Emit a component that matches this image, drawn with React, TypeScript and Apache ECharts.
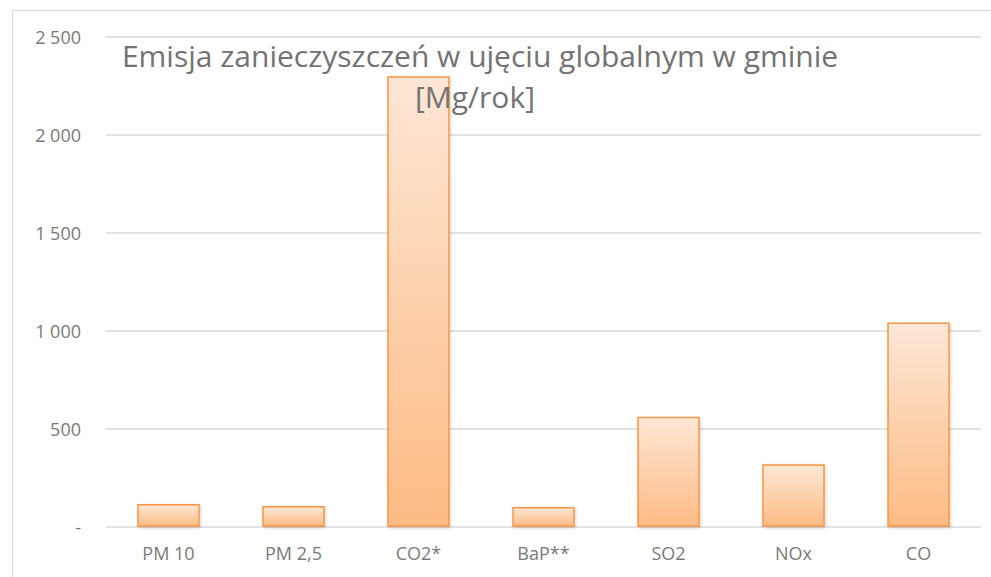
import React, { useEffect, useRef } from "react";
import * as echarts from "echarts";

const categories = ["PM 10", "PM 2,5", "CO2*", "BaP**", "SO2", "NOx", "CO"];
const emissions = [117, 107, 2300, 102, 563, 320, 1044];
const titleLines = ["Emisja zanieczyszczeń w ujęciu globalnym w gminie", "[Mg/rok]"];
const yMax = 2500;
const yStep = 500;

function fmt(v: number): string {
  if (v === 0) return "-";
  return String(v).replace(/\B(?=(\d{3})+(?!\d))/g, " ");
}

export default function App() {
  const ref = useRef<HTMLDivElement>(null);
  useEffect(() => {
    if (!ref.current) return;
    const chart = echarts.init(ref.current, undefined, { renderer: "svg" });
    const font = "'Open Sans', sans-serif";
    chart.setOption({
      animation: false,
      backgroundColor: "#ffffff",
      grid: { left: 106, right: 10, top: 37, bottom: 50, containLabel: false },
      xAxis: {
        type: "category",
        data: categories,
        axisLine: { show: false },
        axisTick: { show: false },
        axisLabel: { color: "#7a7a7a", fontSize: 18, fontFamily: font, margin: 17 },
      },
      yAxis: {
        type: "value",
        min: 0,
        max: yMax,
        interval: yStep,
        axisLine: { show: false },
        axisTick: { show: false },
        splitLine: { lineStyle: { color: "#d9d9d9", width: 1.5 } },
        axisLabel: {
          color: "#7a7a7a",
          fontSize: 18,
          fontFamily: font,
          margin: 25,
          formatter: (v: number) => fmt(v),
        },
      },
      series: [
        {
          type: "bar",
          data: emissions,
          barWidth: "50%",
          z: 2,
          itemStyle: {
            color: new echarts.graphic.LinearGradient(0, 0, 0, 1, [
              { offset: 0, color: "#fde7d6" },
              { offset: 1, color: "#fdbb84" },
            ]),
            borderColor: "#f79646",
            borderWidth: 1.5,
            shadowColor: "rgba(0,0,0,0.18)",
            shadowBlur: 3,
            shadowOffsetX: 1,
            shadowOffsetY: 1,
          },
        },
      ],
      graphic: [
        {
          type: "rect",
          shape: { x: 12.5, y: 10.5, width: 1000, height: 700 },
          style: { fill: "none", stroke: "#d9d9d9", lineWidth: 1 },
          z: 0,
          silent: true,
        },
        {
          type: "text",
          x: 480,
          y: 55,
          z: 10,
          style: {
            text: titleLines[0],
            fill: "#737373",
            fontSize: 30,
            fontFamily: font,
            align: "center",
            verticalAlign: "middle",
          },
        },
        {
          type: "text",
          x: 475,
          y: 96,
          z: 10,
          style: {
            text: titleLines[1],
            fill: "#737373",
            fontSize: 30,
            fontFamily: font,
            align: "center",
            verticalAlign: "middle",
          },
        },
      ],
    });
    return () => chart.dispose();
  }, []);
  return (
    <div
      ref={ref}
      style={{ position: "fixed", left: 0, top: 0, width: 991, height: 577, background: "#fff" }}
    />
  );
}
